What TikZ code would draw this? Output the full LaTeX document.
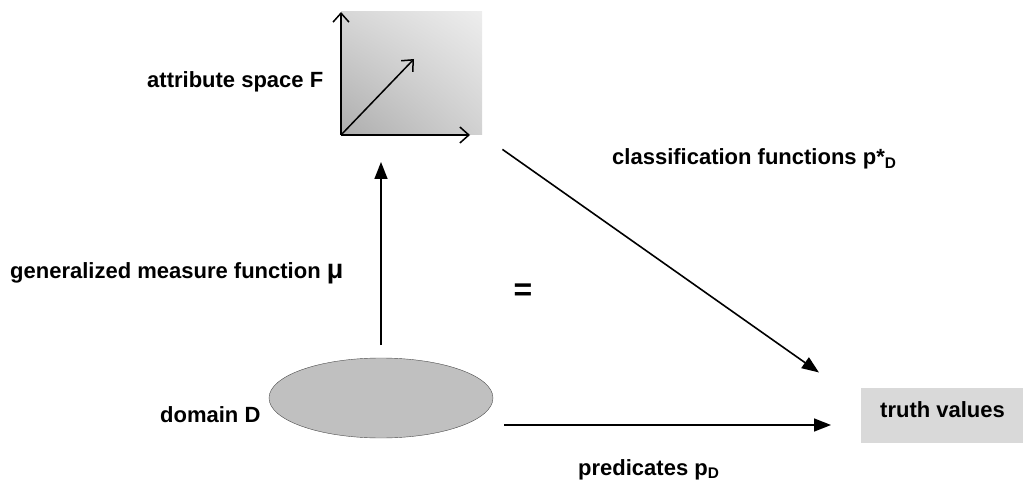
\documentclass[tikz,border=0pt]{standalone}
\usepackage{fontspec}
\setmainfont{Liberation Sans}
\usetikzlibrary{shapes.geometric, arrows.meta, shadings}
\definecolor{ellgray}{HTML}{C0C0C0}
\definecolor{boxgray}{HTML}{D9D9D9}

\begin{document}
\begin{tikzpicture}[x=1pt, y=-1pt,
  lbl/.style={inner sep=0, font=\fontsize{22}{26}\selectfont\bfseries},
  flow/.style={-{Triangle[length=17pt,width=13pt]}, line width=1.6pt},
  axis/.style={-{Straight Barb[length=9pt,width=16pt]}, line width=1.5pt}]
\useasboundingbox (0,0) rectangle (1023,481);
\node[inner sep=0, outer sep=0, minimum width=141pt, minimum height=123pt,
  lower left=black!32, upper right=black!7, lower right=black!18, upper left=black!16] (fspace) at (411.5,73.5) {};
\node[ellipse, draw=black!70, fill=ellgray, inner sep=0, outer sep=0, minimum width=224pt, minimum height=80pt] (domain) at (381,398) {};
\node[fill=boxgray, inner sep=0, outer sep=0, minimum width=162pt, minimum height=55pt] (truth) at (942,415.5) {};
\coordinate (ftip) at (414,59);
\coordinate (pred) at ([yshift=-27pt]domain.east);
% Labels
\node[lbl, anchor=base west] (fspacelbl) at (147,88) {attribute space F};
\node[lbl, anchor=base west] (mulbl) at (10,278) {generalized measure function {\fontsize{27}{27}\selectfont μ}};
\node[lbl, anchor=base west] (domlbl) at (160,422) {domain D};
\node[lbl, font=\fontsize{32}{32}\selectfont\bfseries] (eq) at (523,292) {=};
\node[lbl, anchor=base west] (classlbl) at (612,165) {classification functions p*\textsubscript{D}};
\node[lbl, anchor=base west] (predlbl) at (578,475) {predicates p\textsubscript{D}};
\node[lbl, anchor=base west] (truthlbl) at (880,417) {truth values};
% Axes
\draw[axis] (fspace.south west) -- (fspace.north west);
\draw[axis] (fspace.south west) -- ([xshift=-12pt]fspace.south east);
\draw[axis] (fspace.south west) -- (ftip);
% Arrows
\draw[flow, shorten <=13pt, shorten >=27pt] (domain.north) -- (domain.north |- fspace.south);
\draw[flow, shorten <=25pt, shorten >=27pt] (fspace.south east) -- ([xshift=-20pt]truth.north west);
\draw[flow, shorten <=11pt, shorten >=30pt] (pred) -- (pred -| truth.west);
\end{tikzpicture}
\end{document}
